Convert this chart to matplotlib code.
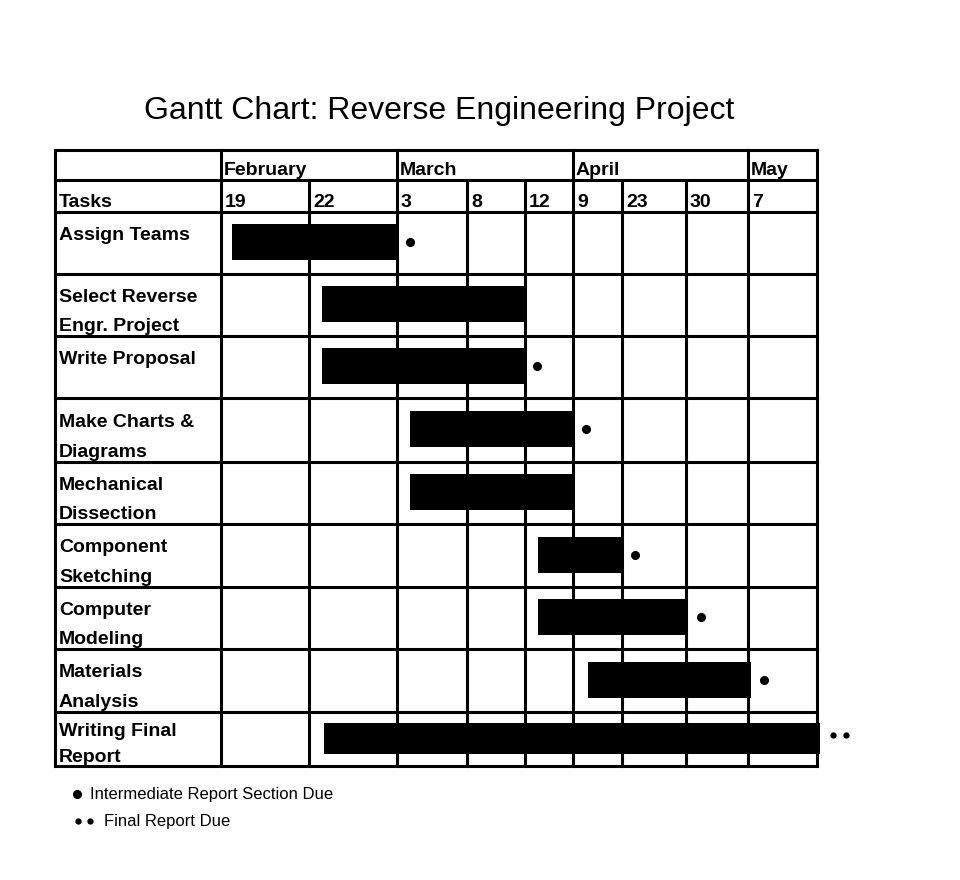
import numpy as np
import matplotlib
matplotlib.use("Agg")
import matplotlib.pyplot as plt
from matplotlib.transforms import ScaledTranslation

# ---------------- data ----------------
title = "Gantt Chart: Reverse Engineering Project"
months = ["February", "March", "April", "May"]
month_start_col = [0, 2, 5, 8]          # column index where each month begins
day_labels = ["19", "22", "3", "8", "12", "9", "23", "30", "7"]
tasks = ["Assign Teams", "Select Reverse\nEngr. Project", "Write Proposal",
         "Make Charts &\nDiagrams", "Mechanical\nDissection", "Component\nSketching",
         "Computer\nModeling", "Materials\nAnalysis", "Writing Final\nReport"]
# bar start / end in timeline-column units (0 = start of the "19" column)
task_start = [0.12, 1.15, 1.15, 2.19, 2.19, 4.27, 4.27, 5.31, 1.17]
task_end   = [2.00, 3.98, 3.98, 5.00, 5.00, 6.00, 7.03, 8.04, 9.04]
# milestone markers after a bar: 0 none, 1 intermediate section due, 2 final report due
milestone = [1, 0, 1, 1, 0, 1, 1, 1, 2]
legend_items = ["Intermediate Report Section Due", "Final Report Due"]

# ---------------- layout (pixel knots of the non-uniform grid) ----------------
W, H = 960, 880
x_units = np.arange(-1, len(day_labels) + 1, dtype=float)          # -1 = tasks column
x_px = np.array([55, 221, 309, 397, 467, 525, 573, 622, 686, 748, 817], float)
y_units = np.arange(-2, len(tasks) + 1, dtype=float)                # -2 month row, -1 day row
y_px = np.array([150, 180, 212, 274, 336, 398, 462, 524, 587, 649, 712, 766], float)


def make_pw(ku, kp):
    def fwd(u):
        u = np.asarray(np.ma.filled(u, np.nan) if np.ma.isMaskedArray(u) else u, float)
        p = np.interp(u, ku, kp)
        p = np.where(u < ku[0], kp[0] + (u - ku[0]) * (kp[1] - kp[0]) / (ku[1] - ku[0]), p)
        p = np.where(u > ku[-1], kp[-1] + (u - ku[-1]) * (kp[-1] - kp[-2]) / (ku[-1] - ku[-2]), p)
        return p

    def inv(p):
        return make_pw(kp, ku)[0](p)
    return fwd, inv


fx, ix = make_pw(x_units, x_px)
fy, iy = make_pw(y_units, y_px)

plt.rcParams['font.family'] = ['Liberation Sans', 'DejaVu Sans']
fig = plt.figure(figsize=(W / 100, H / 100), dpi=100)
ax = fig.add_axes([0, 0, 1, 1])
ax.set_xscale('function', functions=(fx, ix))
ax.set_yscale('function', functions=(fy, iy))
ax.set_xlim(float(ix(0.0)), float(ix(float(W))))
ax.set_ylim(float(iy(float(H))), float(iy(0.0)))
ax.axis('off')

LW = 2.2
ncol = len(day_labels)
nrow = len(tasks)
x_left, x_right = -1, ncol
for yv in np.arange(-2, nrow + 1):
    ax.plot([x_left, x_right], [yv, yv], color='black', lw=LW, solid_capstyle='projecting')
for xv in [-1] + month_start_col + [ncol]:
    ax.plot([xv, xv], [-2, -1], color='black', lw=LW, solid_capstyle='projecting')
for xv in np.arange(-1, ncol + 1):
    ax.plot([xv, xv], [-1, nrow], color='black', lw=LW, solid_capstyle='projecting')

fs = 14
# month labels
for m, c in zip(months, month_start_col):
    ax.annotate(m, xy=(c, -1.17), xytext=(3, 0), textcoords='offset pixels',
                ha='left', va='baseline', fontsize=fs, fontweight='bold')
# day labels
ax.annotate("Tasks", xy=(-1, -0.15), xytext=(4, 0), textcoords='offset pixels',
            ha='left', va='baseline', fontsize=fs, fontweight='bold')
for i, d in enumerate(day_labels):
    ax.annotate(d, xy=(i, -0.15), xytext=(4, 0), textcoords='offset pixels',
                ha='left', va='baseline', fontsize=fs, fontweight='bold')
# task labels
line_pos = [0.45, 0.92]
for r, t in enumerate(tasks):
    for k, line in enumerate(t.split("\n")):
        ax.annotate(line, xy=(-1, r + line_pos[k]), xytext=(4, 0), textcoords='offset pixels',
                    ha='left', va='baseline', fontsize=fs, fontweight='bold')

# bars and milestone dots
for r in range(nrow):
    top = r + 0.2
    bot = r + 0.77
    ax.fill_between([task_start[r], task_end[r]], [top, top], [bot, bot],
                    color='black', lw=0)
    yc = (top + bot) / 2
    if milestone[r] == 1:
        ax.plot([task_end[r]], [yc], 'o', color='black', ms=5.5,
                transform=ax.transData + ScaledTranslation(13 / 100, 0, fig.dpi_scale_trans))
    elif milestone[r] == 2:
        for off in (13, 26):
            ax.plot([task_end[r]], [yc - 0.05], 'o', color='black', ms=3.5,
                    transform=ax.transData + ScaledTranslation(off / 100, 0, fig.dpi_scale_trans))

# title
ax.text(439 / W, 1 - 119 / H, title, transform=ax.transAxes, ha='center', va='baseline',
        fontsize=23, fontweight='normal')

# legend
ax.plot([77 / W], [1 - 794 / H], 'o', color='black', ms=5.5, transform=ax.transAxes)
ax.text(90 / W, 1 - 799 / H, legend_items[0], transform=ax.transAxes, ha='left',
        va='baseline', fontsize=12)
for px in (78, 90):
    ax.plot([px / W], [1 - 821 / H], 'o', color='black', ms=3.5, transform=ax.transAxes)
ax.text(104 / W, 1 - 826 / H, legend_items[1], transform=ax.transAxes, ha='left',
        va='baseline', fontsize=12)

fig.savefig("out.png", dpi=100, facecolor='white')
